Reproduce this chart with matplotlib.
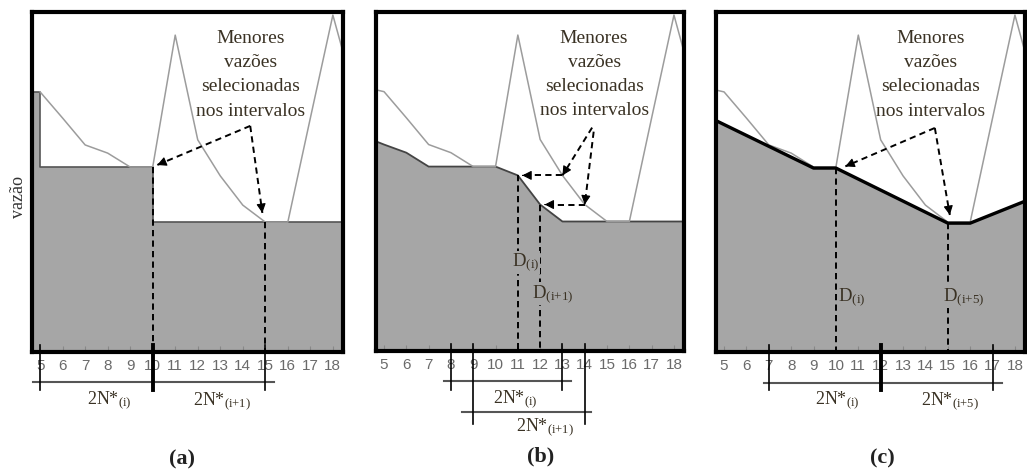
import matplotlib
matplotlib.use("Agg")
import matplotlib.pyplot as plt

plt.rcParams["font.family"] = ["Liberation Sans", "DejaVu Sans"]
plt.rcParams["mathtext.fontset"] = "custom"
plt.rcParams["mathtext.rm"] = "Liberation Serif"
plt.rcParams["mathtext.it"] = "Liberation Serif:italic"

# Daily flow series (relative units)
days = [5, 6, 7, 8, 9, 10, 11, 12, 13, 14, 15, 16, 17, 18, 19]
flow = [76.5, 68.8, 60.9, 58.5, 54.4, 54.4, 93.2, 62.4, 51.8, 43.2, 38.2, 38.2, 68.8, 99.1, 75.0]

# (a) minima of consecutive blocks, held as steps
step_x = [4, 5, 10, 19]
step_y = [76.5, 54.4, 38.2, 38.2]

# (b) moving-window minima
move_x = [4, 5, 6, 7, 8, 9, 10, 11, 12, 13, 14, 15, 16, 17, 18, 19]
move_y = [63.5, 60.9, 58.5, 54.4, 54.4, 54.4, 54.4, 51.8, 43.2, 38.2, 38.2, 38.2, 38.2, 38.2, 38.2, 38.2]

# (c) block minima joined by straight segments
link_x = [4, 9, 10, 15, 16, 19]
link_y = [70.1, 54.1, 54.1, 37.9, 37.9, 45.8]

tick_days = list(range(5, 19))

FILL = "#a6a6a6"
LINE = "#9c9c9c"
TXT = "#3a3224"
SERIF = "Liberation Serif"
DASH = (0, (3.2, 2.2))


def flow_at(d):
    return flow[days.index(d)]


def dashed_arrow(ax, p0, p1):
    ax.plot([p0[0], p1[0]], [p0[1], p1[1]], ls=DASH, color="k", lw=1.4, zorder=4)
    back = (p1[0] - 0.02 * (p1[0] - p0[0]), p1[1] - 0.02 * (p1[1] - p0[1]))
    ax.annotate("", xy=p1, xytext=back,
                arrowprops=dict(arrowstyle="-|>,head_length=0.55,head_width=0.28",
                                color="k", lw=0.8, shrinkA=0, shrinkB=0), zorder=5)


def vdash(ax, x, ytop):
    ax.plot([x, x], [ytop, 0], ls=DASH, color="k", lw=1.4, zorder=3)


def bracket(ax, y, x0, x1, marks, y_tick_bottom, thick=()):
    ax.plot([x0, x1], [y, y], color="#555555", lw=1.5, clip_on=False, zorder=6)
    for m in marks:
        ax.plot([m, m], [2.0, y_tick_bottom], color="k",
                lw=2.8 if m in thick else 1.2, clip_on=False, zorder=6)


def label2n(ax, x, y, sub):
    ax.text(x, y, "2N*$_{" + sub + "}$", ha="center", va="center",
            fontsize=13, family=SERIF, color=TXT, clip_on=False)


def dlabel(ax, x, y, sub, ha="center"):
    ax.text(x, y, "D$_{" + sub + "}$", ha=ha, va="center", fontsize=13.5,
            family=SERIF, color=TXT, zorder=6,
            bbox=dict(facecolor=FILL, edgecolor="none", pad=0.5))


def menores(ax, x):
    ax.text(x, 94.8, "Menores\nvazões\nselecionadas\nnos intervalos",
            ha="center", va="top", fontsize=14, family=SERIF, color=TXT,
            linespacing=1.56, zorder=6)


def setup(ax):
    ax.set_xlim(4.64, 18.45)
    ax.set_ylim(0, 100)
    ax.set_yticks([])
    ax.set_xticks(tick_days)
    ax.set_xticklabels([str(d) for d in tick_days])
    ax.tick_params(axis="x", direction="in", length=4, width=0.8, color="#888888",
                   labelsize=11, labelcolor="#6a6a6a", pad=5)
    for s in ax.spines.values():
        s.set_linewidth(3.0)
        s.set_color("k")
        s.set_zorder(7)


fig = plt.figure(figsize=(10.27, 4.73), dpi=100)
W, H = 1027, 473
axa = fig.add_axes([32 / W, (H - 352) / H, 311 / W, 340 / H])
axb = fig.add_axes([376 / W, (H - 351) / H, 308 / W, 339 / H])
axc = fig.add_axes([716 / W, (H - 352) / H, 309 / W, 340 / H])

# ---- (a)
ax = axa
setup(ax)
ax.fill_between(step_x, step_y, 0, step="post", color=FILL, lw=0, zorder=1)
ax.step(step_x, step_y, where="post", color="#555555", lw=1.2, zorder=2)
ax.plot(days, flow, color=LINE, lw=1.1, zorder=2)
vdash(ax, 10, flow_at(10))
vdash(ax, 15, flow_at(15))
menores(ax, 14.33)
dashed_arrow(ax, (14.33, 66.5), (10.2, 55.0))
dashed_arrow(ax, (14.33, 66.5), (14.87, 40.9))
bracket(ax, -8.8, 4.7, 15.4, [5, 10, 15], -11.2, thick=(10,))
label2n(ax, 8.07, -14.3, r"(\mathrm{i})")
label2n(ax, 13.08, -14.6, r"(\mathrm{i{+}1})")
ax.text(-0.045, 0.455, "vazão", transform=ax.transAxes, rotation=90, ha="center",
        va="center", fontsize=13, family=SERIF, color="#333333")

# ---- (b)
ax = axb
setup(ax)
ax.fill_between(move_x, move_y, 0, color=FILL, lw=0, zorder=1)
ax.plot(move_x, move_y, color="#444444", lw=1.3, zorder=2)
ax.plot([4] + days, [78.0] + flow, color=LINE, lw=1.1, zorder=2)
vdash(ax, 11, move_y[move_x.index(11)])
vdash(ax, 12, move_y[move_x.index(12)])
menores(ax, 14.42)
dashed_arrow(ax, (14.33, 65.9), (13.0, flow_at(13)))
dashed_arrow(ax, (14.40, 64.7), (14.0, flow_at(14)))
dashed_arrow(ax, (13.0, flow_at(13)), (11.2, flow_at(13)))
dashed_arrow(ax, (14.0, flow_at(14)), (12.2, flow_at(14)))
dlabel(ax, 11.34, 26.1, r"(\mathrm{i})")
dlabel(ax, 12.55, 16.9, r"(\mathrm{i{+}1})")
bracket(ax, -8.9, 7.7, 13.4, [8, 13], -11.6)
bracket(ax, -18.1, 8.5, 14.3, [9, 14], -21.4)
label2n(ax, 10.9, -14.3, r"(\mathrm{i})")
label2n(ax, 12.2, -22.6, r"(\mathrm{i{+}1})")

# ---- (c)
ax = axc
setup(ax)
ax.fill_between(link_x, link_y, 0, color=FILL, lw=0, zorder=1)
ax.plot([4] + days, [78.0] + flow, color=LINE, lw=1.1, zorder=2)
ax.plot(link_x, link_y, color="k", lw=2.4, zorder=3)
vdash(ax, 10, link_y[link_x.index(10)])
vdash(ax, 15, link_y[link_x.index(15)])
menores(ax, 14.24)
dashed_arrow(ax, (14.42, 65.9), (10.42, 54.6))
dashed_arrow(ax, (14.42, 65.9), (15.09, 40.3))
dlabel(ax, 10.7, 16.2, r"(\mathrm{i})")
dlabel(ax, 15.7, 16.2, r"(\mathrm{i{+}5})")
bracket(ax, -9.1, 6.8, 17.4, [7, 12, 17], -11.2, thick=(12,))
label2n(ax, 10.07, -14.3, r"(\mathrm{i})")
label2n(ax, 15.1, -14.6, r"(\mathrm{i{+}5})")

# panel letters
for xpx, ypx, lab in [(182, 459, "(a)"), (541, 456, "(b)"), (882, 458, "(c)")]:
    fig.text(xpx / W, 1 - ypx / H, lab, ha="center", va="center", fontsize=16,
             family=SERIF, fontweight="bold", color="#222222")

fig.savefig("out.png", dpi=100)
